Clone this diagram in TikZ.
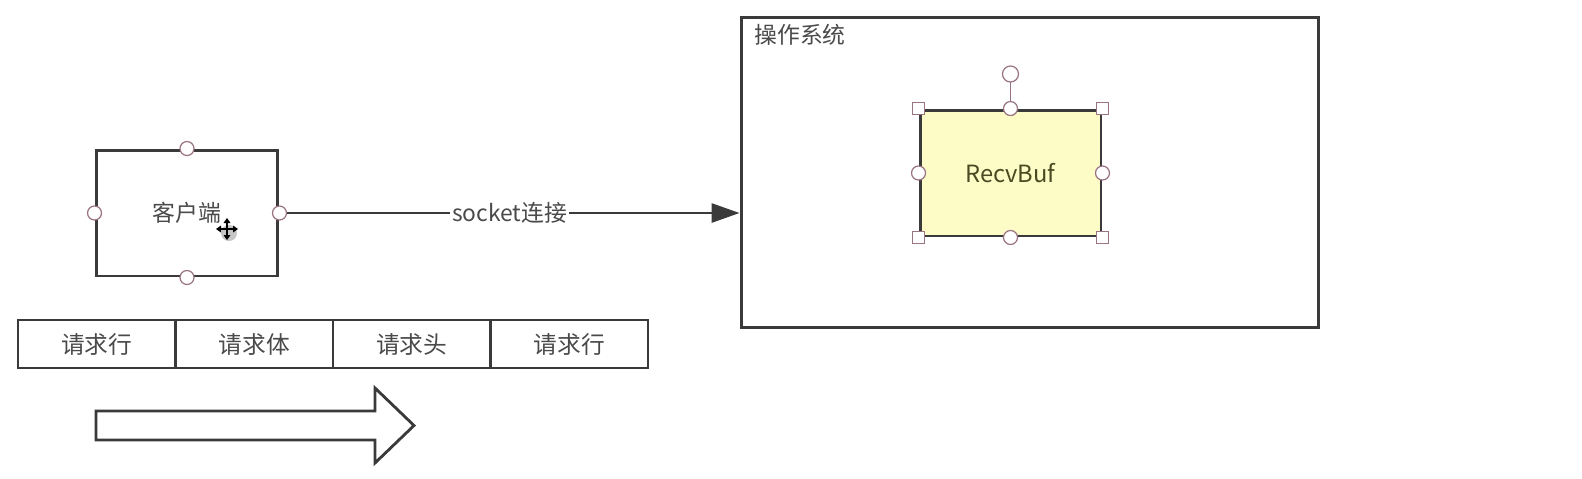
\documentclass[tikz,border=0pt]{standalone}
\usepackage{fontspec}
\setmainfont{Noto Sans CJK SC}
\usetikzlibrary{arrows.meta}
\definecolor{edge}{HTML}{3A3A3A}
\definecolor{txt}{HTML}{4A4A4A}
\definecolor{buf}{HTML}{FDFCC6}
\definecolor{buftxt}{HTML}{4A4A22}
\definecolor{handle}{HTML}{9A7484}
\begin{document}
\begin{tikzpicture}[x=0.02cm,y=-0.02cm,
  box/.style={draw=edge, line width=1.7pt, fill=white, inner sep=0pt, text=txt, font=\fontsize{13}{15}\selectfont},
  cell/.style={draw=edge, line width=1.4pt, fill=white, inner sep=0pt, minimum width=3.15cm, minimum height=0.96cm, text=txt, font=\fontsize{13.5}{15}\selectfont},
  hcirc/.style={circle, draw=handle, line width=0.7pt, fill=white, inner sep=0pt, minimum size=0.28cm},
  hsq/.style={rectangle, draw=handle, line width=0.7pt, fill=white, inner sep=0pt, minimum size=0.25cm},
  lbl/.style={text=txt, font=\fontsize{13}{15}\selectfont}
]
\useasboundingbox[fill=white] (0,0) rectangle (1582,478);

% client box
\node[box, minimum width=3.64cm, minimum height=2.52cm] (client) at (187,213) {客户端};

% operating system box
\node[box, minimum width=11.56cm, minimum height=6.22cm] (os) at (1030,172.5) {};
\node[lbl, anchor=west, inner sep=0pt] (oslabel) at (754,35) {操作系统};

% RecvBuf
\node[box, fill=buf, text=buftxt, minimum width=3.62cm, minimum height=2.52cm, font=\fontsize{13.5}{15}\selectfont] (recv) at (1010.5,173) {RecvBuf};

% main connector
\coordinate (osin) at (client.east -| os.west);
\draw[draw=edge, line width=1.6pt, -{Triangle[length=0.56cm,width=0.38cm]}] (client.east) -- (osin)
  node[midway, fill=white, lbl, inner sep=1pt] (socklbl) {socket连接};

% client handles
\foreach \a in {north,south,east,west}{
  \node[hcirc] at (client.\a) {};
}

% RecvBuf handles
\coordinate (rot) at (1010.5,74);
\draw[draw=handle, line width=0.9pt] (recv.north) -- (rot);
\node[hcirc, minimum size=0.32cm] (rothandle) at (rot) {};
\foreach \a in {north west,north east,south west,south east}{
  \node[hsq] at (recv.\a) {};
}
\foreach \a in {north,south,east,west}{
  \node[hcirc] at (recv.\a) {};
}

% request cells
\node[cell] (c1) at (96.75,344) {请求行};
\node[cell] (c2) at (254.25,344) {请求体};
\node[cell] (c3) at (411.75,344) {请求头};
\node[cell] (c4) at (569.25,344) {请求行};

% big hollow arrow
\draw[draw=edge, line width=1.6pt, fill=white, line join=miter]
  (96,411) -- (375,411) -- (375,388) -- (414,425.5) -- (375,463) -- (375,440) -- (96,440) -- cycle;

% move cursor
\fill[gray!45] (229,233) circle (8);
\draw[black, line width=1.2pt] (218,229) -- (236,229) (227,220) -- (227,238);
\fill[black] (227,218) -- (223.5,223) -- (230.5,223) -- cycle;
\fill[black] (227,240) -- (223.5,235) -- (230.5,235) -- cycle;
\fill[black] (216,229) -- (221,225.5) -- (221,232.5) -- cycle;
\fill[black] (238,229) -- (233,225.5) -- (233,232.5) -- cycle;
\end{tikzpicture}
\end{document}
